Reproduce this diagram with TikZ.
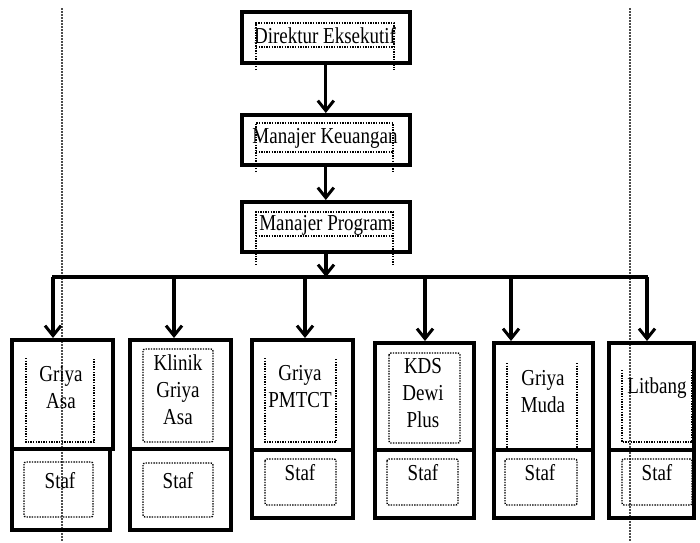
\documentclass[tikz,border=0pt]{standalone}
\usepackage{fontspec}
\setmainfont{Liberation Serif}
\usetikzlibrary{arrows.meta}
\newcommand{\tx}[1]{\scalebox{1}[1.2]{#1}}
\begin{document}
\begin{tikzpicture}[x=1pt,y=-1pt,
  box/.style={draw, line width=3.6pt, inner sep=0pt, anchor=north west},
  dotln/.style={draw, line width=1.4pt, dash pattern=on 1.4pt off 1.2pt},
  guide/.style={draw, line width=1.5pt, dash pattern=on 1.5pt off 1.5pt, black!70},
  lbl/.style={font=\fontsize{19}{27}\selectfont, align=center, inner sep=0pt},
  conn/.style={line width=3.2pt, -{Straight Barb[length=10pt,width=16pt,line width=3pt]}},
  bus/.style={line width=3.4pt}]
\useasboundingbox (0,0) rectangle (700,542);
% vertical dotted guides
\coordinate (gl1) at (62,8); \coordinate (gl2) at (62,542);
\coordinate (gr1) at (630,8); \coordinate (gr2) at (630,542);
\draw[guide] (gl1) -- (gl2);
\draw[guide] (gr1) -- (gr2);
% top boxes
\node[box, minimum width=168pt, minimum height=51pt] (dir) at (240,10) {};
\node[box, minimum width=168pt, minimum height=50pt] (keu) at (240,113) {};
\node[box, minimum width=168pt, minimum height=50pt] (prog) at (240,200) {};
\node[lbl] (tdir) at (325,36) {\tx{Direktur Eksekutif}};
\node[lbl] (tkeu) at (325,138) {\tx{Manajer Keuangan}};
\node[lbl] (tprog) at (326,225) {\tx{Manajer Program}};
% dotted text frames of the top boxes
\draw[dotln] (256,70) -- (256,23) -- (394,23) -- (394,70);
\draw[dotln] (256,47) -- (394,47);
\draw[dotln] (256,172) -- (256,123) -- (393,123) -- (393,172);
\draw[dotln] (256,152) -- (393,152);
\draw[dotln] (256,265) -- (256,212) -- (393,212) -- (393,265);
\draw[dotln] (256,236) -- (393,236);
% lower boxes
\node[box, minimum width=101pt, minimum height=109pt] (asa) at (10,338) {};
\node[box, minimum width=98pt, minimum height=81pt] (asaS) at (10,447) {};
\node[box, minimum width=101pt, minimum height=109pt] (kli) at (128,338) {};
\node[box, minimum width=101pt, minimum height=81pt] (kliS) at (128,447) {};
\node[box, minimum width=101pt, minimum height=110pt] (pmt) at (250,338) {};
\node[box, minimum width=101pt, minimum height=68pt] (pmtS) at (250,448) {};
\node[box, minimum width=99pt, minimum height=107pt] (kds) at (373,341) {};
\node[box, minimum width=99pt, minimum height=68pt] (kdsS) at (373,448) {};
\node[box, minimum width=99pt, minimum height=107pt] (mud) at (492,341) {};
\node[box, minimum width=99pt, minimum height=68pt] (mudS) at (492,448) {};
\node[box, minimum width=85pt, minimum height=107pt] (lit) at (607,341) {};
\node[box, minimum width=85pt, minimum height=68pt] (litS) at (607,448) {};
% dotted text frames of the lower boxes
\draw[dotln] (26,358) -- (26,442) -- (94,442) -- (94,358);
\draw[dotln, rounded corners=2pt] (24,462) rectangle (93,517);
\draw[dotln, rounded corners=2pt] (143,349) rectangle (213,442);
\draw[dotln, rounded corners=2pt] (143,463) rectangle (213,517);
\draw[dotln] (265,358) -- (265,442) -- (336,442) -- (336,358);
\draw[dotln, rounded corners=2pt] (265,459) rectangle (336,505);
\draw[dotln, rounded corners=2pt] (389,353) rectangle (460,443);
\draw[dotln, rounded corners=2pt] (387,459) rectangle (458,505);
\draw[dotln] (507,363) -- (507,448);
\draw[dotln] (577,363) -- (577,448);
\draw[dotln, rounded corners=2pt] (505,459) rectangle (577,505);
\draw[dotln] (622,370) -- (622,442) -- (692,442) -- (692,370);
\draw[dotln, rounded corners=2pt] (622,459) rectangle (692,505);
% labels
\node[lbl] (tasa) at (61,388) {\tx{Griya}\\\tx{Asa}};
\node[lbl] (tasaS) at (60,481) {\tx{Staf}};
\node[lbl] (tkli) at (178,390) {\tx{Klinik}\\\tx{Griya}\\\tx{Asa}};
\node[lbl] (tkliS) at (178,481) {\tx{Staf}};
\node[lbl] (tpmt) at (300,387) {\tx{Griya}\\\tx{PMTCT}};
\node[lbl] (tpmtS) at (300,473) {\tx{Staf}};
\node[lbl] (tkds) at (423,393) {\tx{KDS}\\\tx{Dewi}\\\tx{Plus}};
\node[lbl] (tkdsS) at (423,473) {\tx{Staf}};
\node[lbl] (tmud) at (543,392) {\tx{Griya}\\\tx{Muda}};
\node[lbl] (tmudS) at (540,473) {\tx{Staf}};
\node[lbl] (tlit) at (657,388) {\tx{Litbang}};
\node[lbl] (tlitS) at (657,473) {\tx{Staf}};
% connectors
\draw[conn] (dir.south) -- (keu.north);
\draw[conn] (keu.south) -- (prog.north);
\coordinate (busL) at (52,277);
\coordinate (busR) at (648,277);
\coordinate (busM) at (326,277);
\draw[bus] (busL) -- (busR);
\draw[conn] (prog.south -| busM) -- (busM);
\coordinate (d1) at (53,277);
\coordinate (d2) at (174,277);
\coordinate (d3) at (305,277);
\coordinate (d4) at (425,277);
\coordinate (d5) at (511,277);
\coordinate (d6) at (647,277);
\draw[conn] (d1) -- (d1 |- asa.north);
\draw[conn] (d2) -- (d2 |- kli.north);
\draw[conn] (d3) -- (d3 |- pmt.north);
\draw[conn] (d4) -- (d4 |- kds.north);
\draw[conn] (d5) -- (d5 |- mud.north);
\draw[conn] (d6) -- (d6 |- lit.north);
\end{tikzpicture}
\end{document}
